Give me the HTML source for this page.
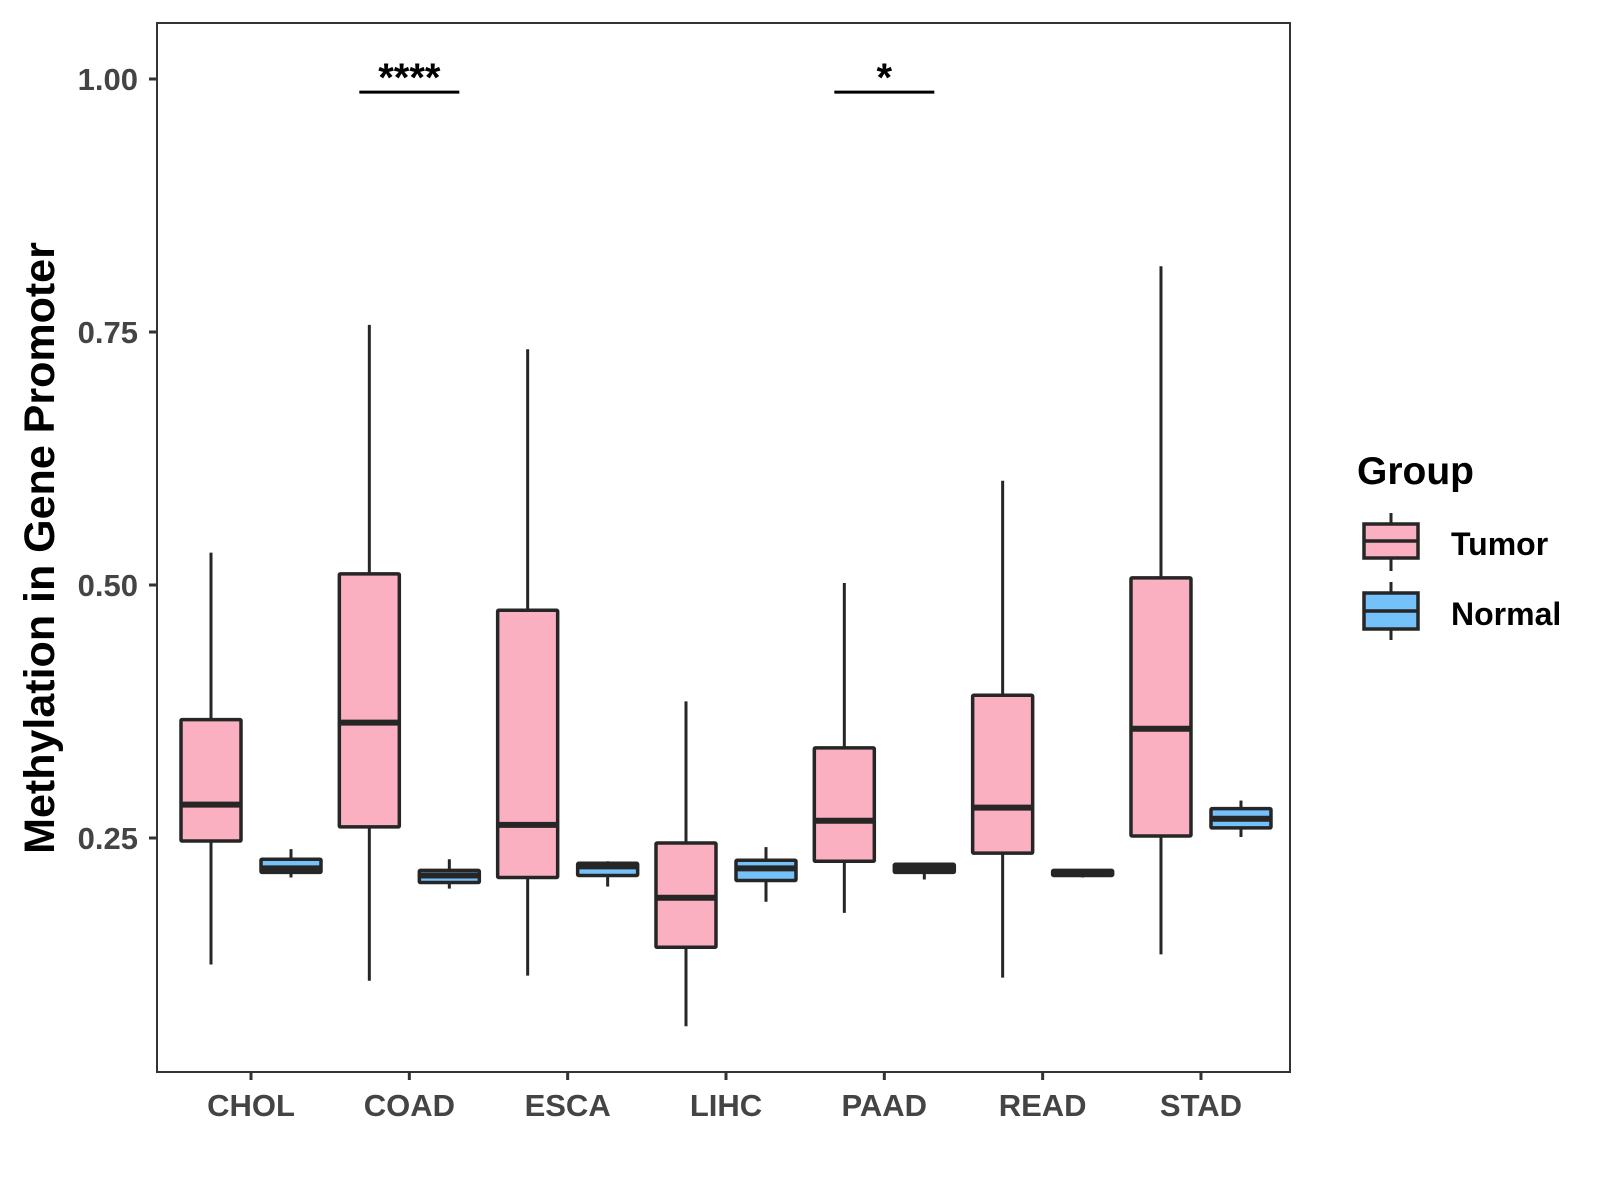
<!DOCTYPE html>
<html><head><meta charset="utf-8"><style>
html,body{margin:0;padding:0;background:#fff;}
svg{display:block;font-family:"Liberation Sans",Arial,sans-serif;}
</style></head><body>
<svg id="chart" width="1600" height="1200" viewBox="0 0 1600 1200">
<rect x="0" y="0" width="1600" height="1200" fill="#fff"/>
<g id="marks"></g>
<rect x="157" y="23" width="1133" height="1049" fill="none" stroke="#333" stroke-width="2"/>
<text transform="translate(54,548) rotate(-90)" text-anchor="middle" font-size="43" font-weight="bold" fill="#000">Methylation in Gene Promoter</text>
<g>
<text x="1357" y="484" font-size="39" font-weight="bold" fill="#000">Group</text>
<g>
<line x1="1391" y1="513" x2="1391" y2="571" stroke="#262626" stroke-width="3"/>
<rect x="1364" y="524" width="54" height="34" fill="#FBB0C2" stroke="#262626" stroke-width="3.5"/>
<line x1="1364" y1="541" x2="1418" y2="541" stroke="#262626" stroke-width="3.5"/>
<text x="1451" y="555" font-size="32" font-weight="bold" fill="#000">Tumor</text>
</g>
<g>
<line x1="1391" y1="582" x2="1391" y2="640" stroke="#262626" stroke-width="3"/>
<rect x="1364" y="593" width="54" height="36" fill="#75C1FA" stroke="#262626" stroke-width="3.5"/>
<line x1="1364" y1="611" x2="1418" y2="611" stroke="#262626" stroke-width="3.5"/>
<text x="1451" y="625" font-size="32" font-weight="bold" fill="#000">Normal</text>
</g>
</g>
</svg>
<script>
const categories = ["CHOL","COAD","ESCA","LIHC","PAAD","READ","STAD"];
// [low, q1, median, q3, high]
const tumorStats = [
  [0.125,0.247,0.283,0.367,0.532],
  [0.109,0.261,0.364,0.511,0.757],
  [0.114,0.211,0.263,0.475,0.733],
  [0.064,0.142,0.191,0.245,0.385],
  [0.176,0.227,0.267,0.339,0.502],
  [0.112,0.235,0.280,0.391,0.603],
  [0.135,0.252,0.358,0.507,0.815]
];
const normalStats = [
  [0.211,0.216,0.220,0.229,0.239],
  [0.200,0.206,0.213,0.218,0.229],
  [0.202,0.213,0.222,0.225,0.227],
  [0.187,0.208,0.220,0.228,0.241],
  [0.209,0.216,0.220,0.224,0.224],
  [0.211,0.213,0.216,0.218,0.219],
  [0.251,0.260,0.269,0.279,0.287]
];
const yTicks = [0.25,0.50,0.75,1.00];
const yTickLabels = ["0.25","0.50","0.75","1.00"];
const sigCategories = ["COAD","PAAD"];
const sigLabels = ["****","*"];
const sigLevel = 0.987;

const NS="http://www.w3.org/2000/svg";
const g=document.getElementById('marks');
const svg=document.getElementById('chart');
function y(v){return 79+(1-v)*1012;}
function x(i){return 251+i*158.33;}
const dodge=40, bw=60;
function mk(tag,attrs,parent){const e=document.createElementNS(NS,tag);for(const k in attrs)e.setAttribute(k,attrs[k]);(parent||g).appendChild(e);return e;}

yTicks.forEach((t,i)=>{
  const tk=mk('line',{x1:149,x2:157,y1:y(t),y2:y(t),stroke:'#333','stroke-width':3},svg);
  
  
  const lb=mk('text',{x:138,y:y(t)+11,'text-anchor':'end','font-size':31,'font-weight':'bold',fill:'#444'},svg);
  lb.textContent=yTickLabels[i];
  
  
});
categories.forEach((c,i)=>{
  const tk=mk('line',{x1:x(i),x2:x(i),y1:1072,y2:1080,stroke:'#333','stroke-width':3},svg);
  
  
  const lb=mk('text',{x:x(i),y:1116,'text-anchor':'middle','font-size':31,'font-weight':'bold',fill:'#444'},svg);
  lb.textContent=c;
  
  
});
function box(cx,s,fill,name){
  const grp=mk('g',{});
  
  
  mk('line',{x1:cx,x2:cx,y1:y(s[4]),y2:y(s[0]),stroke:'#262626','stroke-width':3},grp);
  mk('rect',{x:cx-bw/2,y:y(s[3]),width:bw,height:Math.max(y(s[1])-y(s[3]),1),fill:fill,stroke:'#262626','stroke-width':3.5,rx:1},grp);
  mk('line',{x1:cx-bw/2,x2:cx+bw/2,y1:y(s[2]),y2:y(s[2]),stroke:'#262626','stroke-width':6},grp);
}
categories.forEach((c,i)=>{
  box(x(i)-dodge,tumorStats[i],'#FBB0C2','box-tumor-'+c.toLowerCase());
  box(x(i)+dodge,normalStats[i],'#75C1FA','box-normal-'+c.toLowerCase());
});
sigCategories.forEach((c,k)=>{
  const i=categories.indexOf(c);
  const ln=mk('line',{x1:x(i)-50,x2:x(i)+50,y1:y(sigLevel),y2:y(sigLevel),stroke:'#000','stroke-width':3});
  
  
  const t=mk('text',{x:x(i),y:y(sigLevel)-1,'text-anchor':'middle','font-size':40,'font-weight':'bold',fill:'#000'});
  t.textContent=sigLabels[k];
  
  
});
</script>
</body></html>
